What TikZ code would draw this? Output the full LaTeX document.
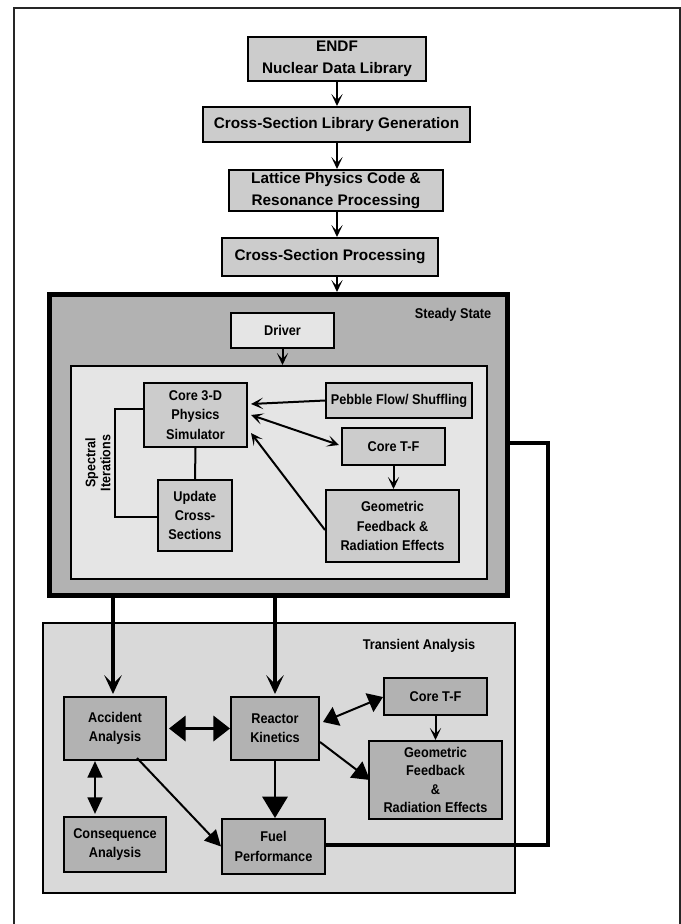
\documentclass[tikz,border=0pt]{standalone}
\usepackage{fontspec}
\setmainfont{Liberation Sans}
\newfontfamily\narrowsans{Liberation Sans}[FakeStretch=0.9]
\usetikzlibrary{arrows.meta,calc}
\newdimen\px \px=0.75pt
\definecolor{cChain}{HTML}{CCCCCC}
\definecolor{cSS}{HTML}{B2B2B2}
\definecolor{cLight}{HTML}{E5E5E5}
\definecolor{cMid}{HTML}{CCCCCC}
\definecolor{cTr}{HTML}{D9D9D9}
\definecolor{cDark}{HTML}{B2B2B2}
\begin{document}
\begin{tikzpicture}[x=0.75pt,y=-0.75pt,
  chainbox/.style={draw, line width=1.5pt, fill=cChain, inner sep=0pt, align=center,
    font=\fontsize{11.5}{16.5}\selectfont\bfseries},
  ibox/.style={draw, line width=1.5pt, inner sep=0pt, align=center,
    font=\narrowsans\fontsize{10.6}{14.5}\selectfont\bfseries},
  lbl/.style={inner sep=0pt, font=\narrowsans\fontsize{10.6}{12}\selectfont\bfseries},
  sarrow/.style={line width=1.5pt, -{Stealth[length=9pt,width=8.5pt,inset=4.5pt]}},
  sdarrow/.style={line width=1.5pt, {Stealth[length=9pt,width=8.5pt,inset=4.5pt]}-{Stealth[length=9pt,width=8.5pt,inset=4.5pt]}},
  tarrow/.style={line width=3pt, -{Stealth[length=14pt,width=13pt,inset=6.5pt]}},
]
\useasboundingbox (0,0) rectangle (681,924);
% outer frame
\draw[line width=1.1pt, black!85] (14,924) -- (14,8) -- (680,8) -- (680,924);

% top chain
\node[chainbox, minimum width=178\px, minimum height=44\px] (endf) at (337,59) {ENDF\\Nuclear Data Library};
\node[chainbox, minimum width=267\px, minimum height=35\px] (xslib) at (336.5,124.5) {Cross-Section Library Generation};
\node[chainbox, minimum width=214\px, minimum height=41\px] (lat) at (336,190.5) {Lattice Physics Code \&\\Resonance Processing};
\node[chainbox, minimum width=216\px, minimum height=38\px] (xsp) at (330,257) {Cross-Section Processing};

% steady state
\node[draw, line width=3.75pt, fill=cSS, minimum width=458\px, minimum height=301\px, inner sep=0pt] (ss) at (278.5,445) {};
\node[lbl] (sslbl) at (453,315) {Steady State};
\node[ibox, fill=cLight, minimum width=103\px, minimum height=35\px] (drv) at (282.5,330.5) {Driver};
\node[draw, line width=1.5pt, fill=cLight, minimum width=416\px, minimum height=213\px, inner sep=0pt] (inner) at (279,472.5) {};
\node[ibox, fill=cMid, minimum width=103\px, minimum height=64\px] (core) at (195.5,415) {Core 3-D\\Physics\\Simulator};
\node[ibox, fill=cMid, minimum width=146\px, minimum height=35\px] (peb) at (399,400.5) {Pebble Flow/ Shuffling};
\node[ibox, fill=cMid, minimum width=103\px, minimum height=37\px] (ctfa) at (393.5,446.5) {Core T-F};
\node[ibox, fill=cMid, minimum width=133\px, minimum height=72\px] (geoa) at (392.5,526) {Geometric\\Feedback \&\\Radiation Effects};
\node[ibox, fill=cMid, minimum width=74\px, minimum height=71\px] (upd) at (195,515.5) {Update\\Cross-\\Sections};
\node[lbl, rotate=90, align=center, font=\narrowsans\fontsize{10.4}{11.3}\selectfont\bfseries] (spec) at (98,463) {Spectral\\Iterations};

% transient
\node[draw, line width=1.5pt, fill=cTr, minimum width=472\px, minimum height=270\px, inner sep=0pt] (tr) at (279,758) {};
\node[lbl] (trlbl) at (419,646) {Transient Analysis};
\node[ibox, fill=cDark, minimum width=102\px, minimum height=63\px] (acc) at (115,728.5) {Accident\\Analysis};
\node[ibox, fill=cDark, minimum width=88\px, minimum height=63\px] (rk) at (275,728.5) {Reactor\\Kinetics};
\node[ibox, fill=cDark, minimum width=103\px, minimum height=37\px] (ctfb) at (435.5,696.5) {Core T-F};
\node[ibox, fill=cDark, minimum width=133\px, minimum height=78\px, font=\narrowsans\fontsize{10.6}{13.8}\selectfont\bfseries] (geob) at (435.5,780) {Geometric\\Feedback\\\&\\Radiation Effects};
\node[ibox, fill=cDark, minimum width=102\px, minimum height=55\px] (cons) at (115,844.5) {Consequence\\Analysis};
\node[ibox, fill=cDark, minimum width=103\px, minimum height=55\px] (fuel) at (273.5,846.5) {Fuel\\Performance};

% chain arrows
\draw[sarrow] (endf.south) -- (endf.south |- xslib.north);
\draw[sarrow] (endf.south |- xslib.south) -- (endf.south |- lat.north);
\draw[sarrow] (endf.south |- lat.south) -- (endf.south |- xsp.north);
\draw[sarrow] (endf.south |- xsp.south) -- (endf.south |- ss.north);
\draw[sarrow] (drv.south) -- (drv.south |- inner.north);

% steady state connectors
\draw[sarrow] (peb.west) -- ([shift={(3,-11)}]core.east);
\draw[sdarrow] ([shift={(3,0)}]core.east) -- ([shift={(-2,-1.5)}]ctfa.west);
\draw[sarrow] ([shift={(0,4)}]geoa.west) -- ([shift={(3,18)}]core.east);
\draw[sarrow] (ctfa.south) -- (ctfa.south |- geoa.north);
\draw[line width=1.5pt] (core.south) -- (upd.north);
\draw[line width=1.5pt] ([shift={(0,-6)}]core.west) -- ++(-28,0) |- ([shift={(0,1.5)}]upd.west);

% thick links
\coordinate (a1) at ([shift={(-2,-2)}]acc.north);
\coordinate (r1) at ([shift={(0,-2)}]rk.north);
\draw[tarrow] (a1 |- ss.south) -- (a1);
\draw[tarrow] (r1 |- ss.south) -- (r1);
\draw[line width=3pt] ([shift={(0,-2)}]ss.east) -- ++(38,0) |- ([shift={(0,-1.5)}]fuel.east);

% transient connectors
\draw[line width=2pt, {Triangle[length=12.5pt,width=19pt]}-{Triangle[length=12.5pt,width=19pt]}] ([shift={(2,0)}]acc.east) -- (rk.west);
\draw[line width=2pt, {Triangle[length=12.5pt,width=11pt]}-{Triangle[length=12.5pt,width=11pt]}] ([shift={(-20,0)}]acc.south) -- ([shift={(-20,-2)}]cons.north);
\draw[line width=1.5pt, {Triangle[length=11pt,width=15pt]}-{Triangle[length=11pt,width=15pt]}] ([shift={(3,-6.5)}]rk.east) -- ([shift={(0,0.5)}]ctfb.west);
\draw[line width=1.5pt, -{Triangle[length=13pt,width=15pt]}] ([shift={(0,13.5)}]rk.east) -- ([shift={(2,0)}]geob.west);
\draw[line width=1.5pt, -{Triangle[length=16pt,width=19pt]}] (rk.south) -- (rk.south |- fuel.north);
\draw[line width=1.5pt, -{Triangle[length=12pt,width=12pt]}] ([shift={(22,-3)}]acc.south) -- (fuel.west);
\draw[sarrow] (ctfb.south) -- (ctfb.south |- geob.north);
\end{tikzpicture}
\end{document}
